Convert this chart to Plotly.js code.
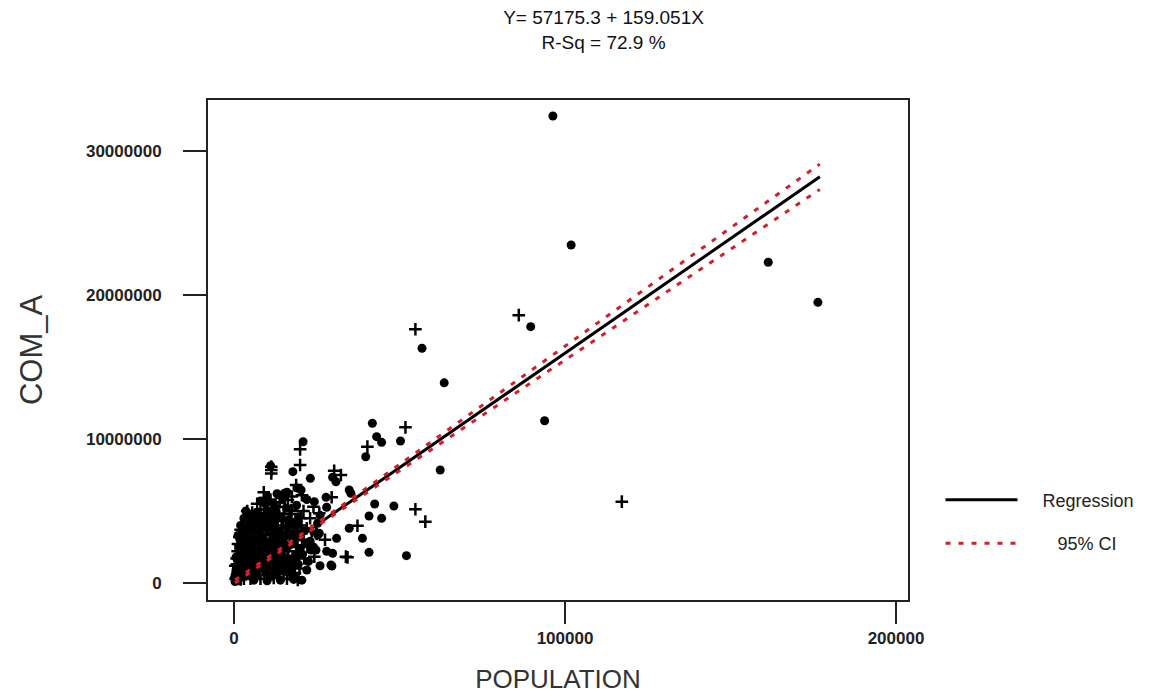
<!DOCTYPE html>
<html><head><meta charset="utf-8">
<script src="https://cdn.plot.ly/plotly-3.0.1.min.js"></script>
<style>html,body{margin:0;padding:0;background:#fff}#chart{width:1154px;height:698px}</style>
</head><body><div id="chart"></div>
<script>
const titleLines = ['Y= 57175.3 + 159.051X', 'R-Sq = 72.9 %'];
const xTitle = 'POPULATION';
const yTitle = 'COM_A';
const xTickVals = [0, 100000, 200000];
const xTickText = ['0', '100000', '200000'];
const yTickVals = [0, 10000000, 20000000, 30000000];
const yTickText = ['0', '10000000', '20000000', '30000000'];
const legendNames = ['Regression', '95% CI'];

// filled-circle observations
const popDot = [96340,161400,176400,56800,89640,63500,62300,93840,101860,41800,43090,44600,50300,39800,29800,30800,23060,34800,35300,27800,28000,42500,48300,40800,44600,34800,38800,31000,25300,29800,40800,52100,23270,29580,25770,20870,11050,17780,20270,15260,24260,
 300,800,1200,1800,2200,2800,3200,3800,4200,4800,5200,5800,700,1700,2600,3700,4700,5700,6500,7000,7600,8200,8800,9300,9900,10500,11100,11700,12300,12900,13500,14100,14700,15300,15900,16500,17100,17700,18300,18900,19500,20100,20700,21500,22500,24000,26000,
 6000,10000,14000,18000,20500,13000,7000,17000,400,1400,2400,3400,600,1600,2700,4400,5600,6600,7700,8700,9700,10700,11800,13100,14300,
 5000,7000,9500,13000,16000,19000,22000,26000,28000,3000,6760,12760,25270,24770,29280,240,
 200,600,1000,1400,1800,2200,2600,3000,3400,3800,4200,4600,5000,5400,5800,6200,6600,7000,7400,7800,8200,8600,9000,9400,9800,10200,10600,11000,11400,11800,12200,12600,13000,13400,13800,14200,14600,15000,15400,15800,16200,16600,17000,17400,17800,18200,18600,19000,19400,20000,21000,22000,23000,3600,4800,8000,10000,12000,1200,2000];
const comDot = [32430000,22270000,19490000,16300000,17800000,13900000,7850000,11270000,23470000,11090000,10160000,9770000,9860000,8770000,7340000,7030000,7270000,6460000,6230000,5950000,5260000,5490000,5350000,4650000,4490000,3800000,3100000,3100000,3330000,2060000,2130000,1900000,2290000,1180000,3450000,9810000,8150000,7730000,6460000,6230000,5650000,
 100000,200000,150000,700000,1000000,1300000,900000,500000,2000000,1500000,2300000,1800000,800000,1500000,2400000,2200000,2600000,2900000,2100000,1400000,2500000,1800000,2900000,1100000,4200000,5000000,1600000,4600000,5300000,900000,2000000,3100000,1300000,2700000,5200000,4400000,3400000,2900000,1700000,5400000,4600000,3200000,2000000,2800000,1500000,2500000,1200000,
 200000,150000,200000,250000,200000,700000,500000,900000,600000,1800000,3000000,3900000,1800000,700000,1700000,1700000,2500000,2800000,3600000,2500000,2000000,1200000,3300000,3000000,2200000,
 4200000,4900000,5500000,6200000,6300000,6600000,5800000,4700000,2200000,4500000,4840000,4950000,4150000,2290000,1250000,330000,
 400000,900000,1600000,2400000,3000000,3400000,600000,1900000,2300000,3200000,3700000,500000,1400000,2700000,3900000,1700000,800000,3000000,4200000,1100000,2700000,4500000,1500000,2200000,3800000,700000,2600000,4300000,1000000,2000000,4000000,1400000,2400000,3600000,1100000,4600000,2800000,1800000,3200000,900000,3900000,2600000,1500000,4200000,500000,3000000,2000000,4100000,1300000,2400000,3600000,900000,2900000,5000000,4600000,5700000,6000000,5500000,3300000,4000000];

// cross (+) observations
const popCross = [54800,86040,117170,51800,40300,30270,32300,29500,54800,57800,37300,33800,34300,19970,19970,11260,11260,18770,16280,
 500,1000,1500,2000,2500,3000,3500,4000,4500,5000,5500,6000,1300,2300,3300,4300,5300,6200,6800,7300,7900,8500,9000,9600,10200,10800,11400,12000,12600,13200,13800,14400,15000,15600,16200,16800,17400,18000,18600,19200,19800,20400,21000,22000,23000,25000,
 8000,12000,16000,19500,11000,9000,15000,900,1900,2900,3900,1100,2100,3600,4900,6300,7200,8400,9200,10300,11300,12500,13700,14900,
 6000,8000,11000,14500,17500,20500,24000,27500,5500,4000,9760,15260,17270,25770,24770,24270,19270,11260,
 400,800,1200,1600,2000,2400,2800,3200,3600,4000,4400,4800,5200,5600,6000,6400,6800,7200,7600,8000,8400,8800,9200,9600,10000,10400,10800,11200,11600,12000,12400,12800,13200,13600,14000,14400,14800,15200,15600,16000,16400,16800,17200,17600,18000,18400,18800,19200,19600,20200,21200,22200,23500,9000,7000];
const comCross = [17620000,18600000,5650000,10810000,9470000,7800000,7500000,5950000,5120000,4260000,3980000,1830000,1780000,9280000,8190000,7850000,7600000,6800000,5760000,
 300000,500000,400000,250000,600000,300000,1600000,1200000,800000,300000,1000000,600000,1100000,1900000,2700000,3000000,3300000,3600000,4000000,3200000,4400000,3700000,4800000,3400000,2300000,3000000,3900000,2600000,3500000,4300000,5600000,4000000,4800000,3800000,2200000,600000,5000000,4100000,3600000,2500000,1000000,4000000,5000000,3800000,4500000,3400000,
 300000,350000,300000,350000,600000,800000,600000,1300000,2600000,3500000,4300000,2200000,1400000,1000000,2100000,1200000,2200000,1300000,3000000,3700000,2800000,1800000,2600000,3300000,
 4600000,5100000,5800000,5900000,6000000,6100000,5300000,3000000,4900000,5000000,4840000,5300000,5070000,4840000,3470000,1830000,210000,8080000,
 1200000,1700000,2700000,3200000,3700000,1200000,2100000,3000000,1400000,2600000,4100000,900000,1900000,3500000,2300000,4400000,1200000,2700000,4700000,2000000,3300000,900000,4000000,2800000,1800000,4600000,2200000,3500000,600000,3100000,2200000,4700000,1600000,3000000,2600000,1000000,4300000,2300000,1400000,3500000,1900000,4800000,2800000,1200000,3300000,700000,2600000,3800000,1800000,4500000,1700000,2500000,3600000,6300000,5500000];

// fitted line and 95% confidence band
const fitPop = [300, 10000, 20000, 40000, 60000, 80000, 100000, 120000, 140000, 160000, 177000];
const fitCom = [104890, 1647685, 3238195, 6419215, 9600235, 12781255, 15962275, 19143295, 22324315, 25505335, 28209202];
const ciUpper = [204890, 1727685, 3328195, 6589215, 9870235, 13151255, 16442275, 19723295, 23014315, 26295335, 29089202];
const ciLower = [4890, 1567685, 3148195, 6249215, 9330235, 12411255, 15482275, 18563295, 21634315, 24715335, 27329202];

const red = '#d0202a';
const nb = n => '&nbsp;'.repeat(n);
const data = [
  {x: popDot, y: comDot, type: 'scatter', mode: 'markers', showlegend: false, hoverinfo: 'x+y',
   marker: {symbol: 'circle', size: 9, color: '#000'}},
  {x: popCross, y: comCross, type: 'scatter', mode: 'markers', showlegend: false, hoverinfo: 'x+y',
   marker: {symbol: 'cross-thin', size: 9, color: '#000', line: {width: 2.5, color: '#000'}}},
  {x: fitPop, y: fitCom, type: 'scatter', mode: 'lines', name: nb(4) + legendNames[0], legendgroup: 'reg',
   line: {color: '#000', width: 3}},
  {x: fitPop, y: ciUpper, type: 'scatter', mode: 'lines', name: nb(7) + legendNames[1], legendgroup: 'ci',
   line: {color: red, width: 3, dash: '5px,8px'}},
  {x: fitPop, y: ciLower, type: 'scatter', mode: 'lines', name: legendNames[1], legendgroup: 'ci', showlegend: false,
   line: {color: red, width: 3, dash: '5px,8px'}}
];

const fontFam = '"Liberation Sans", Arial, sans-serif';
const layout = {
  width: 1154, height: 698,
  margin: {l: 208, r: 246, t: 100, b: 98},
  paper_bgcolor: '#fff', plot_bgcolor: '#fff',
  font: {family: fontFam, color: '#222'},
  title: {text: titleLines.join('<br>'), font: {size: 19, family: fontFam, color: '#111'},
          x: 0.523, xref: 'container', xanchor: 'center', y: 0.965, yref: 'container', yanchor: 'top'},
  xaxis: {range: [-7855, 203625], tickvals: xTickVals, ticktext: xTickText,
          ticks: 'outside', ticklen: 22, tickwidth: 2, tickcolor: '#222',
          showline: true, mirror: true, linecolor: '#222', linewidth: 2,
          showgrid: false, zeroline: false, automargin: false,
          tickfont: {size: 17, color: '#222', weight: 'bold'},
          title: {text: xTitle, font: {size: 26, color: '#333'}, standoff: 22}},
  yaxis: {range: [-1180000, 33540000], tickvals: yTickVals, ticktext: yTickText,
          ticks: 'outside', ticklen: 23, tickwidth: 2, tickcolor: '#222',
          showline: true, mirror: true, linecolor: '#222', linewidth: 2,
          showgrid: false, zeroline: false, automargin: false, ticklabelstandoff: 18,
          tickfont: {size: 17, color: '#222', weight: 'bold'},
          title: {text: yTitle, font: {size: 31, color: '#333'}, standoff: 34}},
  legend: {xref: 'container', yref: 'container', x: 0.815, y: 0.31, xanchor: 'left', yanchor: 'top',
           font: {size: 18, color: '#222'}, itemwidth: 72, tracegroupgap: 17,
           bgcolor: 'rgba(0,0,0,0)', borderwidth: 0, traceorder: 'grouped'},
  hovermode: 'closest'
};
Plotly.newPlot('chart', data, layout, {displayModeBar: false, staticPlot: true});
</script>
</body></html>
